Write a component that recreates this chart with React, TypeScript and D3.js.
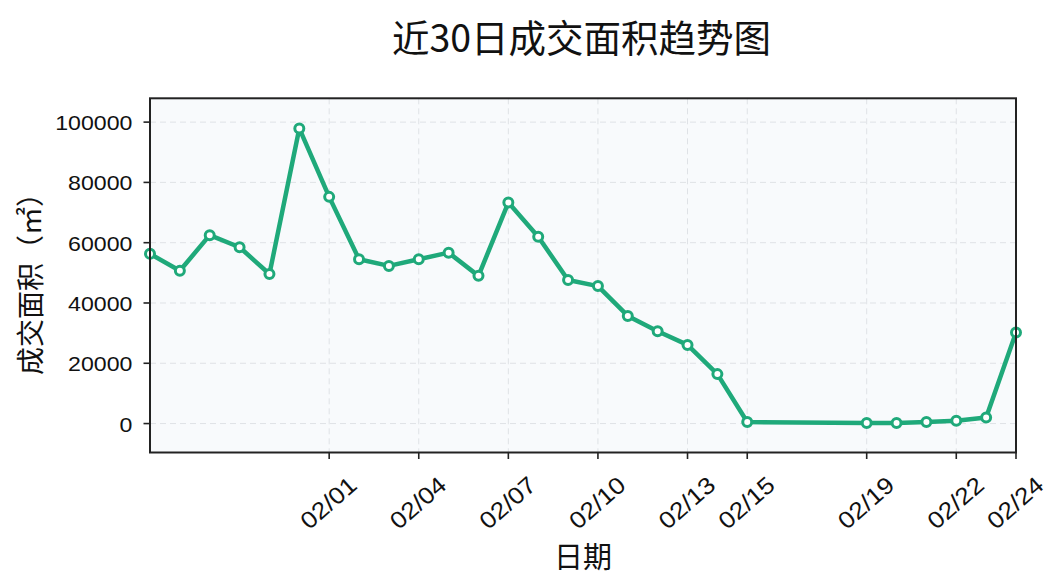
import React from "react";
import * as d3 from "d3";

const dateLabels = [
  "01/26", "01/27", "01/28", "01/29", "01/30", "01/31",
  "02/01", "02/02", "02/03", "02/04", "02/05", "02/06", "02/07", "02/08",
  "02/09", "02/10", "02/11", "02/12", "02/13", "02/14", "02/15",
  "02/19", "02/20", "02/21", "02/22", "02/23", "02/24",
];
const areaValues = [
  56300, 50700, 62500, 58500, 49600, 97900,
  75200, 54500, 52300, 54500, 56700, 49000, 73300, 62000,
  47600, 45600, 35700, 30600, 26100, 16400, 500,
  200, 200, 500, 900, 2000, 30200,
];
const xTickLabels = ["02/01", "02/04", "02/07", "02/10", "02/13", "02/15", "02/19", "02/22", "02/24"];
const yTickValues = [0, 20000, 40000, 60000, 80000, 100000];

const title = "近30日成交面积趋势图";
const xLabel = "日期";
const yLabel = "成交面积（㎡）";

const W = 1064;
const H = 585;
const plot = { left: 150, right: 1016, top: 98.3, bottom: 452.5 };
const lineColor = "#1fa97a";
const tickFont = "'Liberation Sans', Arial, sans-serif";
const cjkFont = "'Noto Sans CJK SC', sans-serif";

const parse = (s: string) => {
  const [m, d] = s.split("/").map(Number);
  return new Date(2025, m - 1, d);
};

export default function App() {
  const data = dateLabels.map((d, i) => ({ date: parse(d), value: areaValues[i] }));
  const x = d3
    .scaleTime()
    .domain([parse(dateLabels[0]), parse(dateLabels[dateLabels.length - 1])])
    .range([plot.left, plot.right]);
  const y = d3.scaleLinear().domain([-9600, 107900]).range([plot.bottom, plot.top]);
  const line = d3
    .line<{ date: Date; value: number }>()
    .x((d) => x(d.date))
    .y((d) => y(d.value));

  return (
    <svg
      width={W}
      height={H}
      style={{ position: "absolute", left: 0, top: 0, background: "#fff" }}
    >
      <text
        x={581.5}
        y={35}
        textAnchor="middle"
        dominantBaseline="central"
        fontFamily={cjkFont}
        fontSize={37.5}
        fill="#111"
      >
        {title}
      </text>

      <rect
        x={plot.left}
        y={plot.top}
        width={plot.right - plot.left}
        height={plot.bottom - plot.top}
        fill="#f8fafc"
      />

      {/* grid */}
      {yTickValues.map((v) => (
        <line
          key={"gy" + v}
          x1={plot.left}
          x2={plot.right}
          y1={y(v)}
          y2={y(v)}
          stroke="#dfe2e6"
          strokeWidth={1}
          strokeDasharray="6,4"
        />
      ))}
      {xTickLabels.map((t) => (
        <line
          key={"gx" + t}
          x1={x(parse(t))}
          x2={x(parse(t))}
          y1={plot.top}
          y2={plot.bottom}
          stroke="#dfe2e6"
          strokeWidth={1}
          strokeDasharray="6,4"
        />
      ))}

      {/* line + markers */}
      <path d={line(data) || ""} fill="none" stroke={lineColor} strokeWidth={4.5} strokeLinejoin="round" />
      {data.map((d, i) => (
        <circle
          key={i}
          cx={x(d.date)}
          cy={y(d.value)}
          r={4.5}
          fill="#fff"
          stroke={lineColor}
          strokeWidth={3}
        />
      ))}

      {/* frame */}
      <rect
        x={plot.left}
        y={plot.top}
        width={plot.right - plot.left}
        height={plot.bottom - plot.top}
        fill="none"
        stroke="#222"
        strokeWidth={2}
      />

      {/* y axis ticks */}
      {yTickValues.map((v) => (
        <g key={"yt" + v}>
          <line x1={plot.left - 6.5} x2={plot.left} y1={y(v)} y2={y(v)} stroke="#222" strokeWidth={1.6} />
          <text
            transform={`translate(132.5,${y(v) + 1}) scale(1.13,1)`}
            textAnchor="end"
            dominantBaseline="central"
            fontFamily={tickFont}
            fontSize={20.5}
            fill="#111"
          >
            {String(v)}
          </text>
        </g>
      ))}

      {/* x axis ticks */}
      {xTickLabels.map((t) => (
        <g key={"xt" + t}>
          <line
            x1={x(parse(t))}
            x2={x(parse(t))}
            y1={plot.bottom}
            y2={plot.bottom + 6.5}
            stroke="#222"
            strokeWidth={1.6}
          />
          <text
            transform={`translate(${x(parse(t)) - 1},${502.5}) rotate(-41) scale(1.12,1)`}
            textAnchor="middle"
            dominantBaseline="central"
            fontFamily={tickFont}
            fontSize={23.5}
            fill="#111"
          >
            {t}
          </text>
        </g>
      ))}

      <text
        x={(plot.left + plot.right) / 2}
        y={555}
        textAnchor="middle"
        dominantBaseline="central"
        fontFamily={cjkFont}
        fontSize={29}
        fill="#111"
      >
        {xLabel}
      </text>
      <text
        transform={`translate(29,${277}) rotate(-90)`}
        textAnchor="middle"
        dominantBaseline="central"
        fontFamily={cjkFont}
        fontSize={28}
        fill="#111"
      >
        {yLabel}
      </text>
    </svg>
  );
}
